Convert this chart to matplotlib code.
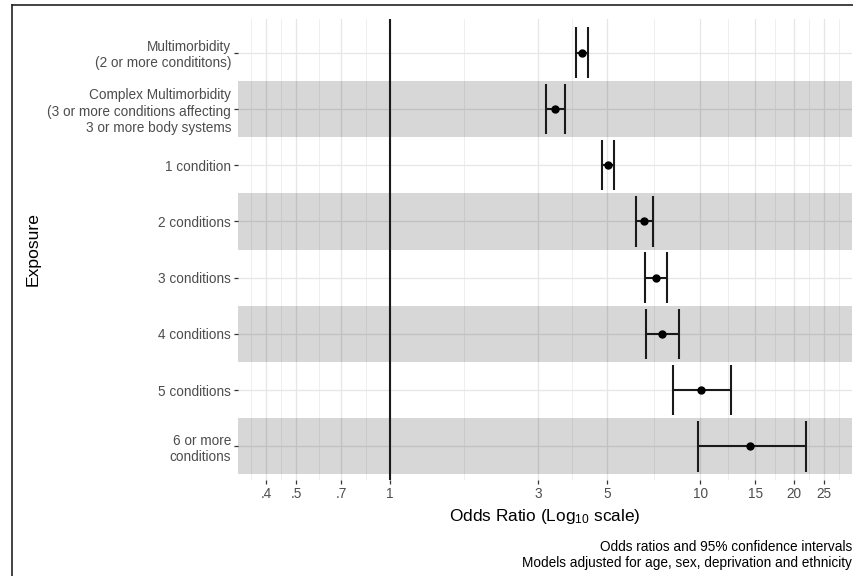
import numpy as np
import matplotlib
matplotlib.use("Agg")
import matplotlib.pyplot as plt
from matplotlib.lines import Line2D

plt.rcParams["font.family"] = ["Liberation Sans", "DejaVu Sans"]
plt.rcParams["mathtext.fontset"] = "custom"
plt.rcParams["mathtext.rm"] = "Liberation Sans"
plt.rcParams["mathtext.it"] = "Liberation Sans:italic"

# Exposure categories (top to bottom)
exposures = [
    "Multimorbidity\n(2 or more condititons)",
    "Complex Multimorbidity\n(3 or more conditions affecting\n3 or more body systems",
    "1 condition",
    "2 conditions",
    "3 conditions",
    "4 conditions",
    "5 conditions",
    "6 or more\nconditions",
]
odds_ratio = [4.15, 3.41, 5.06, 6.60, 7.18, 7.54, 10.05, 14.4]
ci_lower = [3.97, 3.18, 4.82, 6.20, 6.61, 6.66, 8.15, 9.85]
ci_upper = [4.36, 3.67, 5.29, 7.02, 7.81, 8.56, 12.59, 21.9]

x_breaks = [0.4, 0.5, 0.7, 1, 3, 5, 10, 15, 20, 25]
x_break_labels = [".4", ".5", ".7", "1", "3", "5", "10", "15", "20", "25"]
x_limits = (0.4, 25)

fig = plt.figure(figsize=(8.54, 5.76), dpi=100)
W, H = 854, 576
ax = fig.add_axes([238 / W, 1 - 480 / H, (852 - 238) / W, (480 - 19) / H])

ax.set_xscale("log")
lo, hi = np.log10(x_limits)
pad = 0.05 * (hi - lo)
ax.set_xlim(10 ** (lo - pad), 10 ** (hi + pad))
n = len(exposures)
ypos = np.arange(n)
ax.set_ylim(n - 1 + 0.6, -0.6)

# minor breaks halfway between majors on the log scale
lb = np.log10(x_breaks)
mids = (lb[:-1] + lb[1:]) / 2
minors = np.concatenate([[lb[0] - (lb[1] - lb[0]) / 2], mids, [lb[-1] + (lb[-1] - lb[-2]) / 2]])
ax.set_xticks(x_breaks)
ax.set_xticklabels(x_break_labels)
ax.set_xticks(10 ** minors, minor=True)
ax.xaxis.set_minor_formatter(matplotlib.ticker.NullFormatter())
ax.set_yticks(ypos)
ax.set_yticklabels(exposures)

ax.set_axisbelow(True)
ax.grid(which="major", axis="both", color="#E6E6E6", linewidth=0.9, zorder=0)
ax.grid(which="minor", axis="x", color="#EDEDED", linewidth=0.6, zorder=0)

# alternating row shading
for i in ypos:
    if i % 2 == 1:
        ax.axhspan(i - 0.5, i + 0.5, color="black", alpha=0.155, lw=0, zorder=1)

ax.axvline(1, color="#1a1a1a", linewidth=1.5, zorder=2)

ax.hlines(ypos, ci_lower, ci_upper, color="#1a1a1a", linewidth=1.5, zorder=3)
ax.vlines(ci_lower, ypos - 0.45, ypos + 0.45, color="#1a1a1a", linewidth=1.5, zorder=3)
ax.vlines(ci_upper, ypos - 0.45, ypos + 0.45, color="#1a1a1a", linewidth=1.5, zorder=3)
ax.plot(odds_ratio, ypos, "o", color="black", markersize=5, zorder=4)

for s in ax.spines.values():
    s.set_visible(False)
ax.tick_params(which="major", length=3, width=0.9, color="#333333", labelcolor="#4D4D4D",
               labelsize=9.8, pad=2)
ax.tick_params(which="minor", length=0)

ax.set_xlabel(r"Odds Ratio (Log$_{10}$ scale)", fontsize=12.4, color="black", labelpad=4)
fig.text(33 / W, 1 - 249.5 / H, "Exposure", rotation=90, ha="center", va="center",
         fontsize=12.6, color="black")

fig.text(852 / W, 1 - 555 / H,
         "Odds ratios and 95% confidence intervals\nModels adjusted for age, sex, deprivation and ethnicity",
         ha="right", va="center", fontsize=9.8, color="black", linespacing=1.15)

# outer frame
fig.add_artist(Line2D([12 / W, 1], [1 - 5 / H, 1 - 5 / H], transform=fig.transFigure,
                      color="#222222", linewidth=1.2))
fig.add_artist(Line2D([12 / W, 12 / W], [0, 1 - 5 / H], transform=fig.transFigure,
                      color="#222222", linewidth=1.2))

fig.savefig("out.png", dpi=100)
